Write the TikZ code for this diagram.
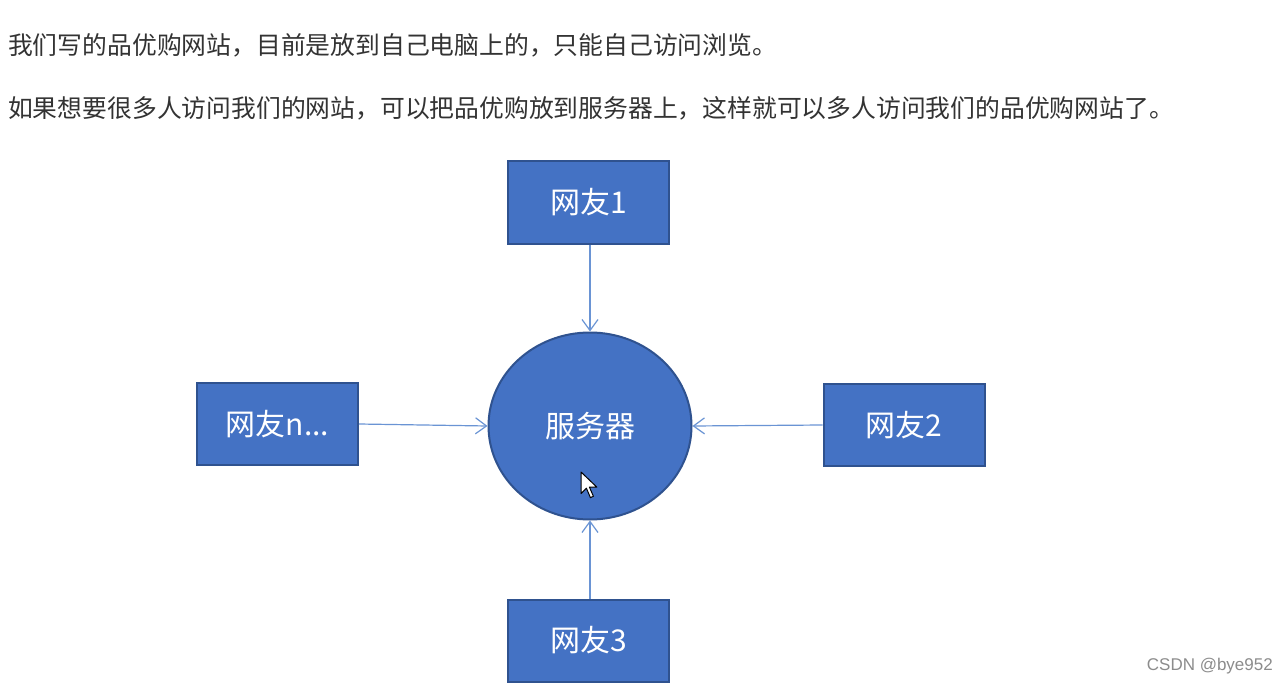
\documentclass[tikz,border=0pt]{standalone}
\usepackage{fontspec}
\newfontfamily\cjk{Noto Sans CJK SC}
\usetikzlibrary{arrows.meta,shapes.geometric}
\definecolor{boxfill}{HTML}{4472C4}
\definecolor{boxline}{HTML}{2F528F}
\definecolor{arrowc}{HTML}{6A94D4}
\definecolor{txt}{HTML}{333333}
\tikzset{
  userbox/.style={draw=boxline, line width=2pt, fill=boxfill, minimum width=161pt, minimum height=82pt, inner sep=0pt, text=white, font=\cjk\fontsize{30}{30}\selectfont},
  servernode/.style={ellipse, draw=boxline, line width=2pt, fill=boxfill, minimum width=203pt, minimum height=187pt, inner sep=0pt, text=white, font=\cjk\fontsize{30}{30}\selectfont},
  link/.style={draw=arrowc, line width=1.2pt, -{Straight Barb[length=11pt,width=16pt,line width=1.2pt]}},
  para/.style={anchor=west, inner sep=0pt, text=txt, font=\cjk\fontsize{24.8}{26}\selectfont},
}
\begin{document}
\begin{tikzpicture}[x=1pt,y=-1pt]
\useasboundingbox[fill=white] (0,0) rectangle (1287,687);
\node[para] (l1) at (8,45) {我们写的品优购网站，目前是放到自己电脑上的，只能自己访问浏览。};
\node[para] (l2) at (8,108) {如果想要很多人访问我们的网站，可以把品优购放到服务器上，这样就可以多人访问我们的品优购网站了。};
\node[servernode] (srv) at (590,426) {服务器};
\node[userbox] (u1) at (588.5,202.5) {网友1};
\node[userbox] (un) at (277.5,424) {网友n...};
\node[userbox] (u2) at (904,425) {网友2};
\node[userbox] (u3) at (588.5,640.5) {网友3};
\draw[link] (u1.south -| srv.north) -- (srv.north);
\draw[link] (u3.north -| srv.south) -- (srv.south);
\draw[link] (un.east) -- (srv.west);
\draw[link] (u2.west) -- (srv.east);
% mouse cursor
\draw[black, line width=1pt, fill=white, line join=round]
  (581,472) -- ++(0,21.6) -- ++(5.4,-5.4) -- ++(4,9.4) -- ++(3,-1.3) -- ++(-4,-9.2) -- ++(7.4,0) -- cycle;
\node[anchor=east, inner sep=0pt, text=black!45, font=\fontspec{Liberation Sans}\fontsize{17}{17}\selectfont] (wm) at (1273,666) {CSDN @bye952};
\end{tikzpicture}
\end{document}
